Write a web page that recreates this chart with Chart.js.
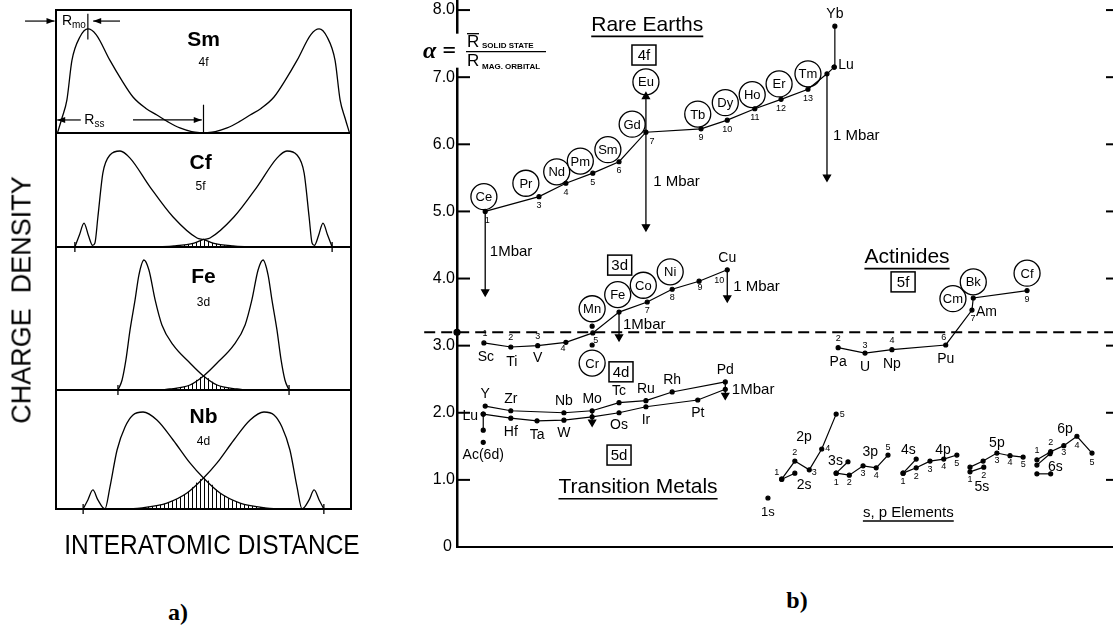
<!DOCTYPE html>
<html>
<head>
<meta charset="utf-8">
<title>alpha</title>
<script src="https://cdn.jsdelivr.net/npm/chart.js@4.4.1/dist/chart.umd.min.js"></script>
<style>
  body { margin: 0; background: #fff; }
  #wrap { position: relative; width: 1113px; height: 632px; overflow: hidden; font-family: "Liberation Sans", Arial, sans-serif; color: #000; }
  canvas { position: absolute; left: 0; }
  .t { position: absolute; transform: translate(-50%, -50%); white-space: nowrap; }
</style>
</head>
<body>
<div id="wrap">
  <canvas id="cSm" width="380" height="139" style="top:0"></canvas>
  <canvas id="cCf" width="380" height="120" style="top:133px"></canvas>
  <canvas id="cFe" width="380" height="149" style="top:247px"></canvas>
  <canvas id="cNb" width="380" height="125" style="top:390px"></canvas>
  <canvas id="cB" width="733" height="560" style="left:380px;top:0"></canvas>
  <div class="t" style="left:22px;top:300px;font-size:27px;transform:translate(-50%,-50%) rotate(-90deg)">CHARGE&nbsp; DENSITY</div>
  <div class="t" style="left:212px;top:545px;font-size:28px;transform:translate(-50%,-50%) scaleX(0.875)">INTERATOMIC DISTANCE</div>
  <div class="t" style="left:178px;top:612px;font:bold 24px 'Liberation Serif'">a)</div>
  <div class="t" style="left:797px;top:600px;font:bold 24px 'Liberation Serif'">b)</div>
</div>
<script>
// ---------- a) charge density, x = 0..100 across the box, y = % of panel height
const smX  = [0.5, 2.0, 3.7, 5.4, 8.1, 10.8, 13.6, 18.3, 22.0, 26.1, 30.5, 34.2, 38.0, 42.0, 46.0, 50.0];
const smY  = [0, 12, 27, 59, 78, 84.6, 80, 59, 44, 29.3, 20, 14.6, 9, 4.1, 1.2, 0];
const smXr = [50.0, 54.0, 58.0, 62.0, 65.8, 69.5, 73.9, 78.0, 81.7, 86.4, 89.2, 91.9, 94.6, 96.3, 98.0, 99.5];
const smYr = [0, 1.2, 4.1, 9, 14.6, 20, 29.3, 44, 59, 80, 84.6, 78, 59, 27, 12, 0];

const cfX  = [6.4, 8.0, 9.5, 11.0, 12.4, 13.2, 14.2, 15.9, 18.3, 21.7, 25.1, 31.9, 39.7, 47.8, 50.0, 53.2, 60.0, 65.8];
const cfY  = [0, 11, 21, 10, 1.5, 3.5, 26.3, 65, 80.7, 84.2, 78, 52.6, 26.3, 7.9, 6.6, 3.5, 0.9, 0];
const cfXr = [34.2, 40.0, 46.8, 50.0, 52.2, 60.3, 68.1, 74.9, 78.3, 81.7, 84.1, 85.8, 86.8, 87.6, 89.0, 90.5, 92.0, 93.6];
const cfYr = [0, 0.9, 3.5, 6.6, 7.9, 26.3, 52.6, 78, 84.2, 80.7, 65, 26.3, 3.5, 1.5, 10, 21, 11, 0];
const cfOvX = [34.2, 40, 46.8, 50, 53.2, 60, 65.8];
const cfOvY = [0, 0.9, 3.5, 6.6, 3.5, 0.9, 0];

const feX  = [21.0, 22.4, 23.7, 25.1, 26.8, 28.1, 29.8, 31.5, 33.6, 35.9, 39.7, 45.4, 50.0, 54.6, 61.4, 64.1];
const feY  = [0, 7, 21, 42, 63, 80.4, 90.9, 83.9, 63, 45.5, 31.5, 18.9, 9.8, 3.5, 0.7, 0];
const feXr = [35.9, 38.6, 45.4, 50.0, 54.6, 60.3, 64.1, 66.4, 68.5, 70.2, 71.9, 73.2, 74.9, 76.3, 77.6, 79.0];
const feYr = [0, 0.7, 3.5, 9.8, 18.9, 31.5, 45.5, 63, 83.9, 90.9, 80.4, 63, 42, 21, 7, 0];
const feOvX = [35.9, 38.6, 45.4, 50, 54.6, 61.4, 64.1];
const feOvY = [0, 0.7, 3.5, 9.8, 3.5, 0.7, 0];

const nbX  = [9.2, 10.8, 12.5, 14.2, 16.6, 18.3, 20.7, 23.4, 26.1, 29.5, 34.2, 39.7, 45.4, 50.0, 55.6, 62.4, 71.5, 74.9];
const nbY  = [0, 7.6, 16, 7.6, 0, 18.5, 49.6, 68.9, 79, 81.5, 74.8, 58, 38.7, 26, 13.4, 5, 0.8, 0];
const nbXr = [25.1, 28.5, 37.6, 44.4, 50.0, 54.6, 60.3, 65.8, 70.5, 73.9, 76.6, 79.3, 81.7, 83.4, 85.8, 87.5, 89.2, 90.8];
const nbYr = [0, 0.8, 5, 13.4, 26, 38.7, 58, 74.8, 81.5, 79, 68.9, 49.6, 18.5, 0, 7.6, 16, 7.6, 0];
const nbOvX = [25.1, 28.5, 37.6, 44.4, 50, 55.6, 62.4, 71.5, 74.9];
const nbOvY = [0, 0.8, 5, 13.4, 26, 13.4, 5, 0.8, 0];

// ---------- b) alpha = R solid state / R mag. orbital
const yTicks = [0, 1, 2, 3, 4, 5, 6, 7, 8];

// rare earths 4f
const rePos   = [4.3, 12.5, 16.6, 20.7, 24.7, 28.8, 37.2, 41.2, 45.4, 49.4, 53.5, 56.4, 57.5];
const reAlpha = [5.00, 5.22, 5.42, 5.57, 5.74, 6.18, 6.23, 6.36, 6.53, 6.67, 6.82, 7.05, 7.15];
const reNums  = ['1', '3', '4', '5', '6', '7', '9', '10', '11', '12', '13', '', ''];
const ybPos = [57.5, 57.6], ybAlpha = [7.15, 7.76];
const reCircled = ['Ce', 'Pr', 'Nd', 'Pm', 'Sm', 'Gd', 'Eu', 'Tb', 'Dy', 'Ho', 'Er', 'Tm'];
const reCircPos = [4.1, 10.5, 15.2, 18.8, 23.0, 26.7, 28.8, 36.7, 40.9, 45.0, 49.1, 53.5];
const reCircAlpha = [5.22, 5.42, 5.59, 5.75, 5.92, 6.30, 6.93, 6.45, 6.62, 6.74, 6.90, 7.05];

// 3d transition metals
const tdLabels = ['Sc', 'Ti', 'V', '', '', '', '', '', '', 'Cu'];
const tdNums   = ['1', '2', '3', '4', '5', '', '7', '8', '9', '10'];
const tdPos    = [4.1, 8.2, 12.3, 16.6, 20.7, 24.7, 29.0, 32.8, 36.9, 41.2];
const tdAlpha  = [3.04, 2.98, 3.00, 3.05, 3.19, 3.50, 3.65, 3.84, 3.96, 4.13];
const mnCrPos = [20.6, 20.6], mnCrAlpha = [3.29, 3.01];
const tdCircled = ['Mn', 'Cr', 'Fe', 'Co', 'Ni'];
const tdCircPos = [20.6, 20.6, 24.5, 28.4, 32.5];
const tdCircAlpha = [3.55, 2.74, 3.76, 3.90, 4.10];

// 4d and 5d
const d4Names = ['Y', 'Zr', 'Nb', 'Mo', 'Tc', 'Ru', 'Rh', 'Pd'];
const d4Pos   = [4.3, 8.2, 16.3, 20.6, 24.7, 28.8, 32.8, 40.9];
const d4Alpha = [2.10, 2.03, 2.00, 2.03, 2.15, 2.18, 2.31, 2.46];
const d5Names = ['Lu', 'Hf', 'Ta', 'W', '', 'Os', 'Ir', 'Pt', ''];
const d5Pos   = [4.0, 8.2, 12.2, 16.3, 20.6, 24.7, 28.8, 36.7, 40.9];
const d5Alpha = [1.98, 1.92, 1.88, 1.89, 1.94, 2.00, 2.09, 2.19, 2.35];
const luTailPos = [4.0, 4.0], luTailAlpha = [1.98, 1.74];
const acPos = [4.0], acAlpha = [1.56];

// actinides 5f
const anNames = ['Pa', 'U', 'Np', 'Pu', '', '', ''];
const anNums  = ['2', '3', '4', '6', '7', '', '9'];
const anPos   = [58.1, 62.2, 66.3, 74.5, 78.5, 78.7, 86.9];
const anAlpha = [2.97, 2.89, 2.94, 3.01, 3.53, 3.71, 3.82];
const anCircled = ['Cm', 'Bk', 'Cf'];
const anCircPos = [75.6, 78.7, 86.9];
const anCircAlpha = [3.70, 3.95, 4.08];

// s, p elements
const s1Pos = [47.4], s1Alpha = [0.73];
const p2Pos = [49.5, 51.5, 53.7, 55.6, 57.8], p2Alpha = [1.01, 1.28, 1.15, 1.46, 1.98];
const s2Pos = [49.5, 51.5], s2Alpha = [1.01, 1.10];
const p3Pos = [57.8, 59.8, 61.9, 63.9, 65.7], p3Alpha = [1.10, 1.07, 1.21, 1.18, 1.37];
const s3Pos = [57.8, 59.6], s3Alpha = [1.10, 1.27];
const p4Pos = [68.0, 70.0, 72.1, 74.2, 76.2], p4Alpha = [1.10, 1.18, 1.28, 1.31, 1.37];
const s4Pos = [68.0, 70.0], s4Alpha = [1.10, 1.31];
const p5Pos = [78.2, 80.2, 82.3, 84.3, 86.3], p5Alpha = [1.19, 1.28, 1.40, 1.36, 1.34];
const s5Pos = [78.2, 80.3], s5Alpha = [1.12, 1.19];
const p6Pos = [88.4, 90.5, 92.5, 94.5, 96.8], p6Alpha = [1.30, 1.42, 1.51, 1.65, 1.40];
const s6Pos = [88.4, 90.4], s6Alpha = [1.22, 1.39];
const s6bPos = [88.4, 90.5], s6bAlpha = [1.09, 1.09];
const spNums = ['1', '2', '3', '4', '5'];

// 1 Mbar compression arrows: position, from, to
const mbar = [[4.3, 5.00, 3.80], [28.8, 6.18, 4.77], [28.8, 6.18, 6.71], [56.4, 7.05, 5.51],
              [24.7, 3.50, 3.13], [41.2, 4.13, 3.71], [20.6, 2.03, 1.86], [40.9, 2.46, 2.26]];
const refLine = 3.2;

// ---------------------------------------------------------------
const FONT = '"Liberation Sans", Arial, sans-serif';
Chart.defaults.font.family = FONT;
Chart.defaults.color = '#000';

const pts = (xs, ys) => xs.map((x, i) => ({ x: x, y: ys[i] }));

const hatch = (() => {
  const c = document.createElement('canvas');
  c.width = 4; c.height = 4;
  const g = c.getContext('2d');
  g.fillStyle = '#000';
  g.fillRect(0, 0, 1, 4);
  return g.createPattern(c, 'repeat');
})();

function arrowHead(ctx, x1, y1, x2, y2) {
  const a = Math.atan2(y2 - y1, x2 - x1), L = 8, W = 3;
  ctx.beginPath();
  ctx.moveTo(x2, y2);
  ctx.lineTo(x2 - L * Math.cos(a) + W * Math.sin(a), y2 - L * Math.sin(a) - W * Math.cos(a));
  ctx.lineTo(x2 - L * Math.cos(a) - W * Math.sin(a), y2 - L * Math.sin(a) + W * Math.cos(a));
  ctx.closePath();
  ctx.fill();
}

// ---------- panel a
function curve(xs, ys) {
  return { data: pts(xs, ys), showLine: true, borderColor: '#000', borderWidth: 1.3, pointRadius: 0,
           cubicInterpolationMode: 'monotone', fill: false, clip: false };
}
function shade(xs, ys) {
  return { data: pts(xs, ys), showLine: true, borderWidth: 0, borderColor: 'rgba(0,0,0,0)', pointRadius: 0,
           cubicInterpolationMode: 'monotone', fill: 'origin', backgroundColor: hatch };
}
function nuclei(xs) {
  return { data: xs.map(x => ({ x: x, y: 0 })), showLine: false, pointStyle: 'line', pointRotation: 90,
           pointRadius: 5, borderColor: '#000', pointBorderWidth: 1.3, clip: false };
}

function marks(spec) {
  return {
    id: 'marks',
    afterDraw(chart) {
      const { ctx, chartArea: a } = chart;
      const X = v => chart.scales.x.getPixelForValue(v), Y = v => chart.scales.y.getPixelForValue(v);
      ctx.save();
      ctx.strokeStyle = '#000'; ctx.fillStyle = '#000';
      ctx.lineWidth = 2;
      ctx.strokeRect(a.left, a.top, a.right - a.left, a.bottom - a.top);
      ctx.lineWidth = 1.2;
      (spec.lines || []).concat(spec.arrows || []).forEach(l => {
        ctx.beginPath(); ctx.moveTo(X(l[0]), Y(l[1])); ctx.lineTo(X(l[2]), Y(l[3])); ctx.stroke();
      });
      (spec.arrows || []).forEach(l => arrowHead(ctx, X(l[0]), Y(l[1]), X(l[2]), Y(l[3])));
      ctx.textBaseline = 'middle';
      (spec.texts || []).forEach(t => {
        ctx.font = t.font; ctx.textAlign = t.align || 'center';
        ctx.fillText(t.t, X(t.x), Y(t.y));
        if (t.sub) {
          const w = ctx.measureText(t.t).width;
          ctx.font = '10px ' + FONT; ctx.textAlign = 'left';
          ctx.fillText(t.sub, X(t.x) + w, Y(t.y) + 4);
        }
      });
      ctx.restore();
    }
  };
}

function densityChart(id, padTop, datasets, spec) {
  return new Chart(document.getElementById(id), {
    type: 'scatter',
    data: { datasets: datasets },
    options: {
      responsive: false, animation: false, events: [],
      layout: { autoPadding: false, padding: { left: 56, right: 29, top: padTop, bottom: 6 } },
      scales: { x: { type: 'linear', min: 0, max: 100, display: false }, y: { min: 0, max: 100, display: false } },
      plugins: { legend: { display: false }, tooltip: { enabled: false } }
    },
    plugins: [marks(spec)]
  });
}

const big = 'bold 21px ' + FONT, small = '12px ' + FONT;

densityChart('cSm', 10, [curve(smX, smY), curve(smXr, smYr)], {
  texts: [{ t: 'Sm', x: 50, y: 75.6, font: big }, { t: '4f', x: 50, y: 56.9, font: small },
          { t: 'R', sub: 'mo', x: 2.0, y: 91, font: '14px ' + FONT, align: 'left' },
          { t: 'R', sub: 'ss', x: 9.6, y: 10.6, font: '14px ' + FONT, align: 'left' }],
  lines: [[10.8, 97, 10.8, 76], [50, 0, 50, 23]],
  arrows: [[-10.5, 91, -0.5, 91], [21.7, 91, 12.6, 91], [8.4, 10.6, 0.4, 10.6], [26.1, 10.6, 49.4, 10.6]]
});
densityChart('cCf', 0, [shade(cfOvX, cfOvY), curve(cfX, cfY), curve(cfXr, cfYr), nuclei([6.4, 93.6])], {
  texts: [{ t: 'Cf', x: 49, y: 73.7, font: big }, { t: '5f', x: 49, y: 52.6, font: small }]
});
densityChart('cFe', 0, [shade(feOvX, feOvY), curve(feX, feY), curve(feXr, feYr), nuclei([21.0, 79.0])], {
  texts: [{ t: 'Fe', x: 50, y: 79, font: big }, { t: '3d', x: 50, y: 60.8, font: small }]
});
densityChart('cNb', 0, [shade(nbOvX, nbOvY), curve(nbX, nbY), curve(nbXr, nbYr), nuclei([9.2, 90.8])], {
  texts: [{ t: 'Nb', x: 50, y: 77.3, font: big }, { t: '4d', x: 50, y: 56.3, font: small }]
});

// ---------- panel b
function series(xs, ys, extra) {
  return Object.assign({ data: pts(xs, ys), showLine: true, borderColor: '#000', backgroundColor: '#000',
                         borderWidth: 1.2, pointRadius: 2, clip: false }, extra || {});
}
function circles(xs, ys) {
  return { data: pts(xs, ys), showLine: false, pointRadius: 13, pointBackgroundColor: '#fff',
           pointBorderColor: '#000', pointBorderWidth: 1.3, order: 5, clip: false };
}
function arrowDs(m) {
  return { data: [{ x: m[0], y: m[1] }, { x: m[0], y: m[2] }], showLine: true, borderColor: '#000',
           borderWidth: 1.3, pointRadius: [0, 4], pointStyle: 'triangle', pointRotation: m[2] < m[1] ? 180 : 0,
           pointBackgroundColor: '#000', pointBorderColor: '#000', clip: false };
}

const datasetsB = [
  series([-5, 100], [refLine, refLine], { pointRadius: 0, borderWidth: 2, borderDash: [11, 6] }),
  series([0], [refLine], { showLine: false, pointRadius: 3 }),
  series(rePos, reAlpha),
  series(ybPos, ybAlpha),
  series(tdPos, tdAlpha),
  series(mnCrPos, mnCrAlpha, { showLine: false }),
  series(d4Pos, d4Alpha),
  series(d5Pos, d5Alpha),
  series(luTailPos, luTailAlpha),
  series(acPos, acAlpha, { showLine: false }),
  series(anPos, anAlpha),
  series(s1Pos, s1Alpha, { showLine: false }),
  series(p2Pos, p2Alpha), series(s2Pos, s2Alpha),
  series(p3Pos, p3Alpha), series(s3Pos, s3Alpha),
  series(p4Pos, p4Alpha), series(s4Pos, s4Alpha),
  series(p5Pos, p5Alpha), series(s5Pos, s5Alpha),
  series(p6Pos, p6Alpha), series(s6Pos, s6Alpha), series(s6bPos, s6bAlpha),
  circles(reCircPos, reCircAlpha),
  circles(tdCircPos, tdCircAlpha),
  circles(anCircPos, anCircAlpha)
].concat(mbar.map(arrowDs));

// text tags hung on data points (offsets in px)
const tags = [];
function tag(texts, xs, ys, dx, dy, size, align) {
  texts.forEach((t, i) => {
    if (!t) return;
    tags.push({ t: t, x: xs[i], y: ys[i], dx: Array.isArray(dx) ? dx[i] : dx, dy: Array.isArray(dy) ? dy[i] : dy,
                size: size, align: align || 'center' });
  });
}
tag(reNums, rePos, reAlpha, [2, 0, 0, 0, 0, 6, 0, 0, 0, 0, 0], 9, 9);
tag(['', 'Yb'], ybPos, ybAlpha, 0, -12, 14);
tag(['Lu'], [rePos[12]], [reAlpha[12]], 4, -2, 14, 'left');
tag(tdLabels, tdPos, tdAlpha, [2, 1, 0, 0, 0, 0, 0, 0, 0, 0], [14, 15, 12, 0, 0, 0, 0, 0, 0, -12], 14);
tag(tdNums, tdPos, tdAlpha, [1, 0, 0, -3, 3, 0, 0, 0, 1, -8], [-9, -9, -9, 6, 8, 0, 8, 8, 6, 11], 9);
tag(d4Names, d4Pos, d4Alpha, 0, -12, 14);
tag(d5Names, d5Pos, d5Alpha, [-13, 0, 0, 0, 0, 0, 0, 0, 0], [2, 14, 14, 13, 0, 12, 13, 13, 0], 14);
tag(['Ac(6d)'], acPos, acAlpha, 0, 13, 14);
tag(anNames, anPos, anAlpha, 0, 14, 14);
tag(['Am'], [anPos[4]], [anAlpha[4]], 4, 2, 14, 'left');
tag(anNums, anPos, anAlpha, [0, 0, 0, -2, 1, 0, 0], [-9, -8, -9, -7, 8, 0, 9], 9);
tag(spNums, p2Pos, p2Alpha, [-5, 0, 5, 6, 6], [-7, -9, 3, 0, 0], 9);
tag(spNums, p3Pos, p3Alpha, 0, [9, 7, 8, 8, -8], 9);
tag(spNums, p4Pos, p4Alpha, 0, [8, 9, 8, 7, 8], 9);
tag(['1', '2'], s5Pos, s5Alpha, 0, 8, 9);
tag(['', '', '3', '4', '5'], p5Pos, p5Alpha, 0, 7, 9);
tag(spNums, p6Pos, p6Alpha, 0, [-9, -9, 7, 9, 9], 9);

// free notes in data coordinates
const notes = [
  ['1Mbar', 5.0, 4.40, 15, 'left'], ['1 Mbar', 29.9, 5.44, 15, 'left'], ['1 Mbar', 57.3, 6.13, 15, 'left'],
  ['1Mbar', 25.3, 3.31, 15, 'left'], ['1 Mbar', 42.1, 3.87, 15, 'left'], ['1Mbar', 41.9, 2.34, 15, 'left'],
  ['1s', 47.4, 0.52, 13], ['2p', 52.9, 1.64, 14], ['2s', 52.9, 0.92, 14], ['3s', 57.7, 1.28, 14],
  ['3p', 63.0, 1.42, 14], ['4s', 68.8, 1.45, 14], ['4p', 74.1, 1.45, 14], ['5p', 82.3, 1.55, 14],
  ['5s', 80.0, 0.89, 14], ['6p', 92.7, 1.76, 14], ['6s', 91.2, 1.19, 14]
];
const titles = [['Rare Earths', 29.0, 7.78, 21], ['Transition Metals', 27.6, 0.89, 21],
                ['Actinides', 68.6, 4.32, 21], ['s, p Elements', 68.8, 0.51, 15]];
const boxes = [['4f', 28.5, 7.33], ['3d', 24.8, 4.20], ['4d', 25.0, 2.61], ['5d', 24.7, 1.37], ['5f', 68.0, 3.95]];

const figB = {
  id: 'figB',
  afterDraw(chart) {
    const { ctx, chartArea: a } = chart;
    const X = v => chart.scales.x.getPixelForValue(v), Y = v => chart.scales.y.getPixelForValue(v);
    const seg = (x1, y1, x2, y2) => { ctx.beginPath(); ctx.moveTo(x1, y1); ctx.lineTo(x2, y2); ctx.stroke(); };
    ctx.save();
    ctx.strokeStyle = '#000'; ctx.fillStyle = '#000'; ctx.textBaseline = 'middle';

    // axis ticks (inward) and labels
    ctx.lineWidth = 2;
    ctx.font = '16px ' + FONT; ctx.textAlign = 'right';
    yTicks.forEach(v => {
      const y = Y(v);
      if (v > 0) { seg(a.left, y, a.left + 13, y); seg(a.right - 7, y, a.right, y); }
      ctx.fillText(v === 0 ? '0' : v.toFixed(1), a.left - (v === 0 ? 5 : 2), y);
    });

    // alpha formula
    const ay = Y(7.38), ax = a.left;
    ctx.fillStyle = '#fff'; ctx.fillRect(ax - 3, ay - 18, 8, 34); ctx.fillStyle = '#000';
    ctx.font = 'bold italic 24px "Liberation Serif"'; ctx.textAlign = 'right';
    ctx.fillText('\u03b1 =', ax - 1, ay);
    ctx.textAlign = 'left';
    ctx.font = '17px ' + FONT;
    ctx.fillText('R', ax + 10, ay - 9);
    ctx.fillText('R', ax + 10, ay + 10);
    ctx.lineWidth = 1.3;
    seg(ax + 10, ay - 18, ax + 22, ay - 18);
    seg(ax + 9, ay, ax + 89, ay);
    ctx.font = 'bold 8px ' + FONT;
    ctx.fillText('SOLID STATE', ax + 25, ay - 6);
    ctx.fillText('MAG. ORBITAL', ax + 25, ay + 15);

    // names inside circles
    ctx.font = '13px ' + FONT; ctx.textAlign = 'center';
    [[reCircled, reCircPos, reCircAlpha], [tdCircled, tdCircPos, tdCircAlpha], [anCircled, anCircPos, anCircAlpha]]
      .forEach(([n, xs, ys]) => n.forEach((t, i) => ctx.fillText(t, X(xs[i]), Y(ys[i]) + 1)));

    // tags and notes
    tags.forEach(t => {
      ctx.font = t.size + 'px ' + FONT; ctx.textAlign = t.align;
      ctx.fillText(t.t, X(t.x) + t.dx, Y(t.y) + t.dy);
    });
    notes.forEach(n => {
      ctx.font = n[3] + 'px ' + FONT; ctx.textAlign = n[4] || 'center';
      ctx.fillText(n[0], X(n[1]), Y(n[2]));
    });
    titles.forEach(t => {
      ctx.font = t[3] + 'px ' + FONT; ctx.textAlign = 'center';
      const x = X(t[1]), y = Y(t[2]), w = ctx.measureText(t[0]).width;
      ctx.fillText(t[0], x, y);
      ctx.lineWidth = 1.6;
      seg(x - w / 2, y + t[3] * 0.55, x + w / 2, y + t[3] * 0.55);
    });
    boxes.forEach(b => {
      ctx.font = '15px ' + FONT; ctx.textAlign = 'center';
      const x = X(b[1]), y = Y(b[2]);
      ctx.fillText(b[0], x, y + 1);
      ctx.lineWidth = 1.5;
      ctx.strokeRect(x - 12, y - 10, 24, 20);
    });
    ctx.restore();
  }
};

new Chart(document.getElementById('cB'), {
  type: 'scatter',
  data: { datasets: datasetsB },
  options: {
    responsive: false, animation: false, events: [],
    layout: { autoPadding: false, padding: 0 },
    scales: {
      x: { type: 'linear', min: 0, max: 100, ticks: { display: false }, grid: { display: false },
           border: { display: true, color: '#000', width: 2 }, afterFit(s) { s.height = 13; } },
      y: { type: 'linear', min: 0, max: 8.15, ticks: { display: false }, grid: { display: false },
           border: { display: true, color: '#000', width: 2.5 }, afterFit(s) { s.width = 77; } }
    },
    plugins: { legend: { display: false }, tooltip: { enabled: false } }
  },
  plugins: [figB]
});
</script>
</body>
</html>
